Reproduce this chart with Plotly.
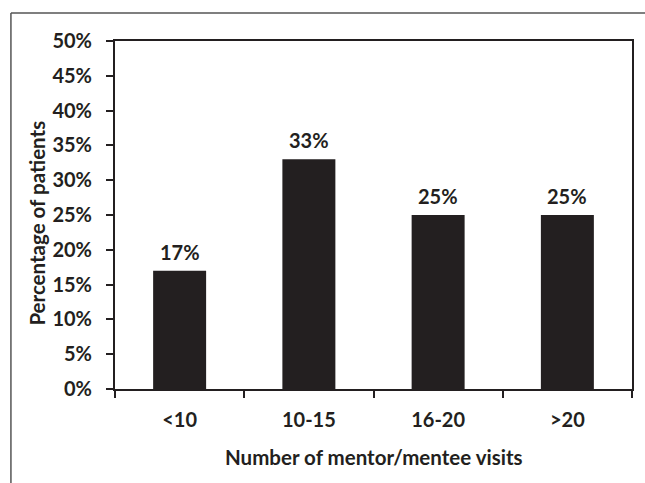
import plotly.graph_objects as go

# Share of patients by number of mentor/mentee visits
categories = ["<10", "10-15", "16-20", ">20"]
percent = [17, 33, 25, 25]
y_ticks = list(range(0, 55, 5))

INK = "#231f20"
FONT = "Lato"

fig = go.Figure(
    go.Bar(
        x=categories,
        y=percent,
        width=0.41,
        marker=dict(color=INK, line=dict(width=0)),
        hoverinfo="skip",
    )
)

# Value labels above each bar
for cat, val in zip(categories, percent):
    fig.add_annotation(
        x=cat, y=val, text=f"{val}%", showarrow=False,
        yanchor="bottom", yshift=5,
        font=dict(family=FONT, size=20, color=INK, weight="bold"),
    )

# Axis titles
fig.add_annotation(
    x=0.5, y=-0.196, xref="paper", yref="paper", showarrow=False,
    text="Number of mentor/mentee visits", yanchor="middle",
    font=dict(family=FONT, size=20.5, color=INK, weight="bold"),
)
fig.add_annotation(
    x=-0.151, y=0.478, xref="paper", yref="paper", showarrow=False,
    text="Percentage of patients", textangle=-90, xanchor="center",
    font=dict(family=FONT, size=20.5, color=INK, weight="bold"),
)

# Thin outer frame (top and left edges)
fig.add_shape(type="line", xref="paper", yref="paper",
              x0=-0.2013, x1=1.06, y0=1.0805, y1=1.0805,
              line=dict(color="#555555", width=1.5))
fig.add_shape(type="line", xref="paper", yref="paper",
              x0=-0.2013, x1=-0.2013, y0=1.0805, y1=-0.28,
              line=dict(color="#555555", width=1.5))

fig.update_xaxes(
    type="category",
    showline=True, linecolor=INK, linewidth=2, mirror=True,
    ticks="outside", tickson="boundaries", ticklen=7, tickwidth=2, tickcolor=INK,
    showgrid=False, zeroline=False,
    tickfont=dict(family=FONT, size=20, color=INK, weight="bold"),
    ticklabelstandoff=12,
)
fig.update_yaxes(
    range=[0, 50],
    tickvals=y_ticks,
    ticktext=[f"{t}%" for t in y_ticks],
    showline=True, linecolor=INK, linewidth=2, mirror=True,
    ticks="outside", ticklen=7, tickwidth=2, tickcolor=INK,
    showgrid=False, zeroline=False,
    tickfont=dict(family=FONT, size=20, color=INK, weight="bold"),
    ticklabelstandoff=10,
)

fig.update_layout(
    width=645, height=483,
    margin=dict(l=115, r=11, t=41, b=94),
    paper_bgcolor="white", plot_bgcolor="white",
    showlegend=False,
    bargap=0.59,
)

fig.write_html("out.html")
